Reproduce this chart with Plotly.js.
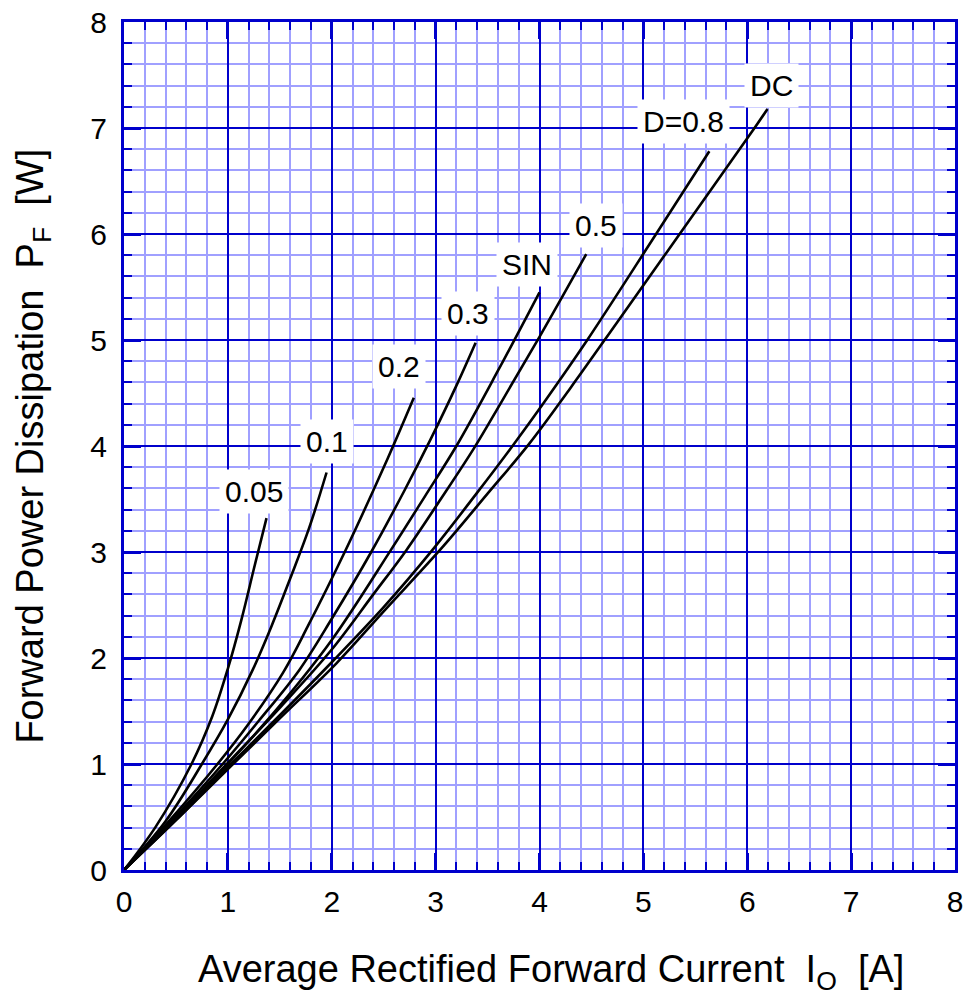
<!DOCTYPE html>
<html>
<head>
<meta charset="utf-8">
<script src="https://cdn.plot.ly/plotly-3.0.1.min.js"></script>
<style>html,body{margin:0;padding:0;background:#fff;}#chart{width:970px;height:1000px;}</style>
</head>
<body>
<div id="chart"></div>
<script>
// Curve data: average forward current Io [A] vs power PF [W]
const seriesNames = ["0.05", "0.1", "0.2", "0.3", "SIN", "0.5", "D=0.8", "DC"];

const io_005 = [0, 0.3, 0.65, 0.85, 1.0, 1.13, 1.26, 1.372];
const pf_005 = [0, 0.4, 1.0, 1.45, 1.9, 2.36, 2.88, 3.32];

const io_01 = [0, 0.4, 0.75, 1.0, 1.24, 1.42, 1.6, 1.78, 1.95];
const pf_01 = [0, 0.46, 1.0, 1.42, 1.89, 2.3, 2.75, 3.22, 3.75];

const io_02 = [0, 0.45, 0.9, 1.2, 1.53, 1.77, 2.125, 2.4, 2.6, 2.79];
const pf_02 = [0, 0.48, 1.0, 1.38, 1.86, 2.3, 3.0, 3.58, 4.02, 4.455];

const io_03 = [0, 0.5, 0.95, 1.3, 1.69, 2.0, 2.38, 2.7, 2.95, 3.2, 3.385];
const pf_03 = [0, 0.51, 1.0, 1.41, 1.89, 2.37, 3.0, 3.58, 4.06, 4.57, 4.975];

const io_sin = [0, 0.5, 1.0, 1.5, 2.0, 2.57, 2.9, 3.2, 3.6, 4.0];
const pf_sin = [0, 0.49, 1.0, 1.55, 2.17, 3.02, 3.53, 4.0, 4.71, 5.45];

const io_05 = [0, 0.5, 0.99, 1.5, 2.0, 2.4, 2.72, 3.05, 3.37, 3.63, 4.0, 4.45];
const pf_05 = [0, 0.49, 1.0, 1.53, 2.08, 2.6, 3.02, 3.5, 3.98, 4.41, 5.03, 5.81];

const io_08 = [0, 0.5, 1.01, 1.5, 2.0, 2.5, 2.97, 3.4, 3.74, 4.05, 4.46, 5.09, 5.635];
const pf_08 = [0, 0.47, 0.98, 1.46, 1.96, 2.48, 3.02, 3.56, 4.0, 4.42, 5.0, 5.95, 6.78];

const io_dc = [0, 0.5, 1.03, 1.5, 2.045, 2.5, 3.07, 3.5, 3.9, 4.3, 4.75, 5.385, 6.07, 6.195];
const pf_dc = [0, 0.47, 0.98, 1.43, 1.95, 2.44, 3.05, 3.55, 4.02, 4.55, 5.17, 6.05, 7.0, 7.18];

// Curve label anchor values (in data units)
const labelTexts = ["0.05", "0.1", "0.2", "0.3", "SIN", "0.5", "D=0.8", "DC"];
const labelIo = [1.25, 1.95, 2.65, 3.31, 3.88, 4.54, 5.39, 6.23];
const labelPf = [3.57, 4.04, 4.75, 5.25, 5.71, 6.08, 7.06, 7.40];

// Axis ticks
const xTicks = [0, 1, 2, 3, 4, 5, 6, 7, 8];
const yTicks = [0, 1, 2, 3, 4, 5, 6, 7, 8];

const allX = [io_005, io_01, io_02, io_03, io_sin, io_05, io_08, io_dc];
const allY = [pf_005, pf_01, pf_02, pf_03, pf_sin, pf_05, pf_08, pf_dc];

const traces = allX.map((xs, i) => ({
  type: 'scatter', mode: 'lines', name: seriesNames[i],
  x: xs, y: allY[i],
  line: {color: '#000000', width: 2.6, shape: 'spline', smoothing: 1.0},
  hoverinfo: 'skip'
}));

const FONT = 'Liberation Sans, Arial, sans-serif';
const MAJOR = '#0000cc';
const MINOR = '#a0a0ff';
const SP = '\u00a0\u00a0';

const annotations = labelTexts.map((t, i) => ({
  x: labelIo[i], y: labelPf[i], xref: 'x', yref: 'y',
  text: t, showarrow: false, bgcolor: '#ffffff', borderpad: 5,
  font: {family: FONT, size: 30, color: '#000'}
}));

annotations.push({
  xref: 'paper', yref: 'paper', x: 0.514, y: -0.12, xanchor: 'center', yanchor: 'middle',
  text: 'Average Rectified Forward Current' + SP + 'I<sub>O</sub>' + SP + '[A]', showarrow: false,
  font: {family: FONT, size: 38, color: '#000'}
});
annotations.push({
  xref: 'paper', yref: 'paper', x: -0.11, y: 0.5, xanchor: 'center', yanchor: 'middle', textangle: -90,
  text: 'Forward Power Dissipation' + SP + 'P<sub>F</sub>' + SP + '[W]', showarrow: false,
  font: {family: FONT, size: 38, color: '#000'}
});

function axis(ticks) {
  return {
    range: [0, 8], tickmode: 'linear', tick0: ticks[0], dtick: ticks[1] - ticks[0],
    showgrid: true, gridcolor: MAJOR, gridwidth: 2,
    zeroline: false, showline: true, linecolor: MAJOR, linewidth: 3, mirror: 'allticks',
    ticks: 'inside', ticklen: 17, tickwidth: 3, tickcolor: MAJOR,
    tickfont: {family: FONT, size: 30, color: '#000'},
    minor: {dtick: 0.2, showgrid: true, gridcolor: MINOR, gridwidth: 2,
            ticks: 'inside', ticklen: 8, tickwidth: 2, tickcolor: MAJOR},
    fixedrange: true
  };
}

const xa = axis(xTicks); xa.ticklabelstandoff = 3;
const ya = axis(yTicks); ya.ticklabelstandoff = 8;

const layout = {
  width: 970, height: 1000,
  margin: {l: 124, r: 15, t: 22, b: 130},
  paper_bgcolor: '#ffffff', plot_bgcolor: '#ffffff',
  showlegend: false,
  xaxis: xa, yaxis: ya,
  annotations: annotations
};

Plotly.newPlot('chart', traces, layout, {staticPlot: true, displayModeBar: false});
</script>
</body>
</html>
